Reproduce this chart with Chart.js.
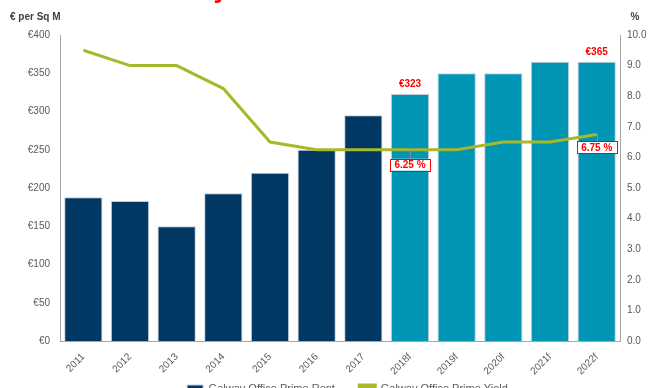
<!DOCTYPE html>
<html>
<head>
<meta charset="utf-8">
<script src="https://cdn.jsdelivr.net/npm/chart.js@4"></script>
<style>
html, body { margin: 0; padding: 0; background: #fff; overflow: hidden; }
#wrap { position: relative; width: 659px; height: 388px; overflow: hidden; }
#c { position: absolute; left: 0; top: 0; }
#title { position: absolute; left: 137px; top: -24px; font: bold 26px "Liberation Sans", Arial, sans-serif; line-height: 26px; color: #ff0000; white-space: nowrap; }
</style>
</head>
<body>
<div id="wrap">
  <canvas id="c" width="695" height="404" style="width:695px;height:404px"></canvas>
  <div id="title">Galway Office Rents &amp; Yields</div>
</div>
<script>
const years = ['2011', '2012', '2013', '2014', '2015', '2016', '2017', '2018f', '2019f', '2020f', '2021f', '2022f'];
const rent = [188, 183, 150, 193, 220, 250, 295, 323, 350, 350, 365, 365];
const primeYield = [9.5, 9.0, 9.0, 8.25, 6.5, 6.25, 6.25, 6.25, 6.25, 6.5, 6.5, 6.75];
const rentLabelYears = ['2018f', '2022f'];
const yieldLabelYears = ['2018f', '2022f'];

const NAVY = '#003763';
const TEAL = '#0094b5';
const LIME = '#a8b82b';
const RED = '#ff0000';
const GREY = '#595959';
const FONT = '"Liberation Sans", Arial, sans-serif';

const barColors = years.map(y => y.endsWith('f') ? TEAL : NAVY);

// red value labels + boxed yield labels
const valueLabels = {
    id: 'valueLabels',
    afterDatasetsDraw(chart) {
        const ctx = chart.ctx;
        const bars = chart.getDatasetMeta(0).data;
        const pts = chart.getDatasetMeta(1).data;
        ctx.save();
        ctx.font = 'bold 10px ' + FONT;
        ctx.fillStyle = RED;
        ctx.textAlign = 'center';
        ctx.textBaseline = 'middle';
        rentLabelYears.forEach(y => {
            const i = years.indexOf(y);
            ctx.fillText('€' + rent[i], bars[i].x, bars[i].y - 10);
        });

        yieldLabelYears.forEach((y, k) => {
            const i = years.indexOf(y);
            const p = pts[i];
            const txt = primeYield[i].toFixed(2) + ' %';
            const w = ctx.measureText(txt).width + 9;
            const h = 12;
            let bx, by;
            if (k === 0) {
                bx = p.x - w / 2;
                by = p.y + 9;
            } else {
                bx = p.x - 20;
                by = p.y + 7;
            }
            // leader line
            ctx.strokeStyle = '#8c8c8c';
            ctx.lineWidth = 1;
            ctx.beginPath();
            ctx.moveTo(Math.round(p.x) + 0.5, p.y);
            ctx.lineTo(Math.round(p.x) + 0.5, by);
            ctx.stroke();

            ctx.fillStyle = '#fff';
            ctx.fillRect(bx, by, w, h);
            ctx.strokeStyle = RED;
            ctx.strokeRect(Math.round(bx) + 0.5, Math.round(by) + 0.5, Math.round(w), h);
            ctx.fillStyle = RED;
            ctx.fillText(txt, bx + w / 2, by + h / 2 + 0.5);
        });
        ctx.restore();
    },
    afterDraw(chart) {
        const ctx = chart.ctx;
        const a = chart.chartArea;
        ctx.save();
        ctx.font = 'bold 10px ' + FONT;
        ctx.fillStyle = '#404040';
        ctx.textBaseline = 'middle';
        ctx.textAlign = 'left';
        ctx.fillText('€ per Sq M', 10, a.top - 18);
        ctx.textAlign = 'center';
        ctx.fillText('%', a.right + 15, a.top - 18);
        ctx.restore();
    }
};

const ctx = document.getElementById('c');
new Chart(ctx, {
    data: {
        labels: years,
        datasets: [
            {
                type: 'bar',
                label: 'Galway Office Prime Rent',
                data: rent,
                backgroundColor: barColors,
                borderColor: '#c3cedb',
                borderWidth: 1,
                categoryPercentage: 1,
                barPercentage: 0.82,
                yAxisID: 'y',
                order: 1
            },
            {
                type: 'line',
                label: 'Galway Office Prime Yield',
                data: primeYield,
                borderColor: LIME,
                backgroundColor: LIME,
                borderWidth: 3,
                pointRadius: 0,
                tension: 0,
                yAxisID: 'y1',
                order: 0
            }
        ]
    },
    options: {
        responsive: false,
        animation: false,
        layout: { padding: { top: 35, left: 0, right: 0, bottom: 0 } },
        plugins: {
            title: { display: false },
            tooltip: { enabled: false },
            legend: {
                position: 'bottom',
                labels: {
                    boxWidth: 16,
                    boxHeight: 7,
                    padding: 6,
                    color: GREY,
                    font: { family: FONT, size: 11 },
                    sort: (a, b) => a.datasetIndex - b.datasetIndex,
                    generateLabels: chart => {
                        const items = Chart.defaults.plugins.legend.labels.generateLabels(chart);
                        items.forEach(it => {
                            if (it.datasetIndex === 0) it.text = it.text + '      ';
                        });
                        return items;
                    }
                }
            }
        },
        scales: {
            x: {
                offset: true,
                grid: { display: false },
                border: { color: '#a6a6a6' },
                ticks: {
                    color: GREY,
                    font: { family: FONT, size: 10 },
                    maxRotation: 45,
                    minRotation: 45,
                    padding: 2
                },
                afterFit: s => { s.height = 36; }
            },
            y: {
                position: 'left',
                min: 0,
                max: 400,
                grid: { display: false, drawTicks: false },
                border: { color: '#a6a6a6' },
                ticks: {
                    stepSize: 50,
                    color: GREY,
                    font: { family: FONT, size: 10 },
                    padding: 10,
                    callback: v => '€' + v
                },
                afterFit: s => { s.width = 60; }
            },
            y1: {
                position: 'right',
                min: 0,
                max: 10,
                grid: { display: false, drawTicks: false },
                border: { color: '#a6a6a6' },
                ticks: {
                    stepSize: 1,
                    color: GREY,
                    font: { family: FONT, size: 10 },
                    padding: 7,
                    callback: v => v.toFixed(1)
                },
                afterFit: s => { s.width = 75; }
            }
        }
    },
    plugins: [valueLabels]
});
</script>
</body>
</html>
